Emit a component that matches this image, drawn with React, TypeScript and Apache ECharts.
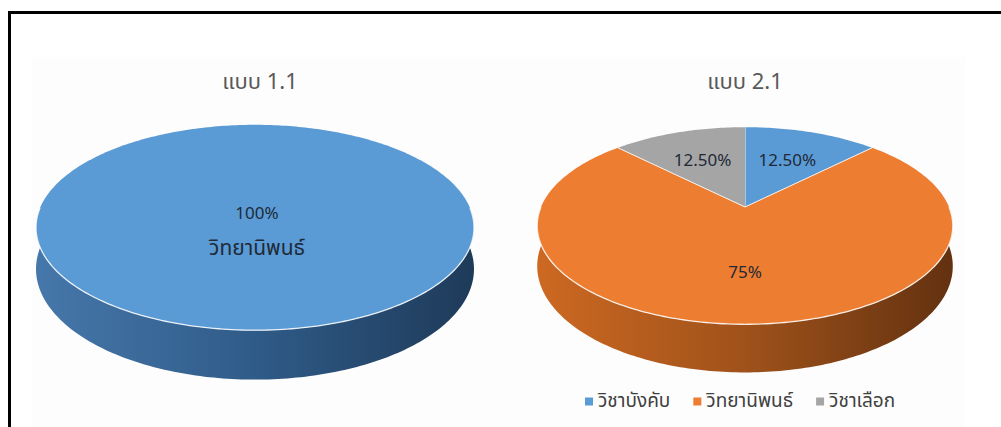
import React, { useEffect, useRef } from "react";
import * as echarts from "echarts";

// ---------- data ----------
const pie1Title = "แบบ 1.1";
const pie1Categories = ["วิทยานิพนธ์"];
const pie1Values = [100];
const pie1Labels = ["100%"];

const pie2Title = "แบบ 2.1";
const pie2Categories = ["วิชาบังคับ", "วิทยานิพนธ์", "วิชาเลือก"];
const pie2Values = [12.5, 75, 12.5];
const pie2Labels = ["12.50%", "75%", "12.50%"];

// ---------- styles ----------
const SLICE_COLORS = ["#5b9bd5", "#ed7d31", "#a5a5a5"];
const WALL_STOPS = [
  ["#4677aa", "#2f5b88", "#1f3b5a"],
  ["#cc6822", "#9f521a", "#643210"],
  ["#8c8c8c", "#707070", "#4e4e4e"],
];
const THAI_FONT = "'Noto Sans Thai', 'Noto Sans Thai UI', Tahoma, 'Noto Sans', 'DejaVu Sans', sans-serif";
const NUM_FONT = "'Noto Sans', 'Open Sans', sans-serif";

type Layout = { cx: number; cy: number; rx: number; ry: number; h: number; p: number };
const pie1Layout: Layout = { cx: 255, cy: 208, rx: 215, ry: 99, h: 40, p: 0.19 };
const pie2Layout: Layout = { cx: 745, cy: 207, rx: 204, ry: 95, h: 39, p: 0.19 };

function makeRender(
  values: number[],
  labels: string[],
  names: string[],
  showName: boolean,
  layout: Layout,
  idx: number
) {
  return () => {
    const total = values.reduce((a, b) => a + b, 0);
    let acc = 0;
    for (let k = 0; k < idx; k++) acc += values[k];
    const TAU = Math.PI * 2;
    const a0 = (acc / total) * TAU;
    const a1 = ((acc + values[idx]) / total) * TAU;
    const { cx, cy, rx, ry, h, p } = layout;
    const proj = (a: number, drop = 0, r = 1) => {
      const X = Math.sin(a) * r;
      const D = -Math.cos(a) * r;
      const f = 1 / (1 - p * D);
      return [cx + rx * X * f, cy + (ry * D + drop) * f];
    };
    const arc = (s: number, e: number, drop = 0) => {
      const n = Math.max(2, Math.ceil((e - s) / (Math.PI / 180)));
      const pts: number[][] = [];
      for (let j = 0; j <= n; j++) pts.push(proj(s + ((e - s) * j) / n, drop));
      return pts;
    };
    const children: any[] = [];
    const ws = Math.max(a0, Math.PI / 2);
    const we = Math.min(a1, (3 * Math.PI) / 2);
    const w = WALL_STOPS[idx % WALL_STOPS.length];
    if (we > ws) {
      const top = arc(ws, we);
      const bot = arc(ws, we, h).reverse();
      children.push({
        type: "polygon",
        shape: { points: top.concat(bot) },
        style: {
          fill: new echarts.graphic.LinearGradient(
            cx - rx,
            0,
            cx + rx,
            0,
            [
              { offset: 0, color: w[0] },
              { offset: 0.5, color: w[1] },
              { offset: 1, color: w[2] },
            ],
            true
          ),
        },
      });
    }
    const full = a1 - a0 >= TAU - 1e-6;
    const topPts = full ? arc(0, TAU) : [[cx, cy]].concat(arc(a0, a1));
    children.push({
      type: "polygon",
      shape: { points: topPts },
      style: { fill: SLICE_COLORS[idx % SLICE_COLORS.length] },
    });
    if (we > ws) {
      children.push({
        type: "polyline",
        shape: { points: arc(ws, we) },
        style: { stroke: "rgba(255,255,255,0.85)", lineWidth: 1.3, fill: "none" },
      });
    }
    if (!full) {
      const e0 = proj(a0);
      children.push({
        type: "line",
        shape: { x1: cx, y1: cy, x2: e0[0], y2: e0[1] },
        style: { stroke: "rgba(255,255,255,0.85)", lineWidth: 1 },
      });
    }
    const textColor = "#1e2a38";
    if (full) {
      children.push({
        type: "text",
        style: {
          text: labels[idx],
          x: cx + 2,
          y: cy + 4,
          align: "center",
          verticalAlign: "middle",
          fill: textColor,
          fontSize: 17,
          fontFamily: NUM_FONT,
        },
      });
      if (showName) {
        children.push({
          type: "text",
          style: {
            text: names[idx],
            x: cx + 2,
            y: cy + 40,
            align: "center",
            verticalAlign: "middle",
            fill: textColor,
            fontSize: 21,
            fontFamily: THAI_FONT,
          },
        });
      }
    } else {
      const mid = (a0 + a1) / 2;
      const lp = proj(mid, 0, 0.6);
      children.push({
        type: "text",
        style: {
          text: showName ? labels[idx] + "\n" + names[idx] : labels[idx],
          x: lp[0],
          y: lp[1],
          align: "center",
          verticalAlign: "middle",
          fill: textColor,
          fontSize: 17,
          fontFamily: NUM_FONT,
        },
      });
    }
    return { type: "group", children };
  };
}

export default function App() {
  const ref = useRef<HTMLDivElement>(null);
  useEffect(() => {
    if (!ref.current) return;
    const chart = echarts.init(ref.current, null, { renderer: "svg" });
    const series: any[] = [];
    pie2Categories.forEach((name, i) => {
      series.push({
        type: "custom",
        name,
        coordinateSystem: "none",
        itemStyle: { color: SLICE_COLORS[i] },
        data: [pie2Values[i]],
        renderItem: makeRender(pie2Values, pie2Labels, pie2Categories, false, pie2Layout, i),
        z: 3,
      });
    });
    pie1Categories.forEach((name, i) => {
      series.push({
        type: "custom",
        name: pie1Title + " " + name,
        coordinateSystem: "none",
        itemStyle: { color: SLICE_COLORS[i] },
        data: [pie1Values[i]],
        renderItem: makeRender(pie1Values, pie1Labels, pie1Categories, true, pie1Layout, i),
        z: 3,
      });
    });
    const titleStyle = { fontSize: 22, fontWeight: "normal", color: "#595959", fontFamily: THAI_FONT };
    chart.setOption({
      animation: false,
      backgroundColor: "#ffffff",
      title: [
        { text: pie1Title, left: pie1Layout.cx, top: 66, textAlign: "center", textStyle: titleStyle },
        { text: pie2Title, left: pie2Layout.cx - 5, top: 66, textAlign: "center", textStyle: titleStyle },
      ],
      legend: {
        data: pie2Categories,
        left: 585,
        top: 392,
        icon: "rect",
        itemWidth: 8,
        itemHeight: 8,
        itemGap: 23,
        padding: 0,
        textStyle: { fontSize: 19, color: "#404040", fontFamily: THAI_FONT },
      },
      graphic: [
        {
          type: "rect",
          z: -10,
          silent: true,
          shape: { x: 32, y: 57, width: 933, height: 380 },
          style: { fill: "#fdfdfd" },
        },
        {
          type: "rect",
          z: 100,
          silent: true,
          shape: { x: 9.5, y: 12.5, width: 1100, height: 600 },
          style: { fill: "none", stroke: "#000000", lineWidth: 3 },
        },
      ],
      series,
    });
    return () => chart.dispose();
  }, []);
  return (
    <div
      ref={ref}
      style={{ position: "absolute", left: 0, top: 0, width: 1001, height: 427 }}
    />
  );
}
